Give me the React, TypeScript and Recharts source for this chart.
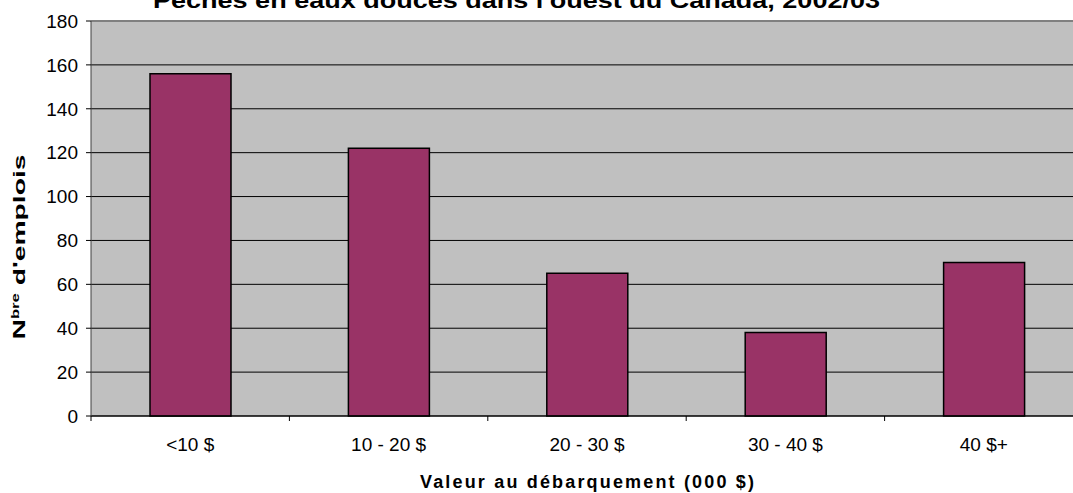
import React from "react";
import {
  BarChart,
  Bar,
  XAxis,
  YAxis,
  CartesianGrid,
  ReferenceLine,
} from "recharts";

// Valeur au débarquement (000 $) -> nombre d'emplois
const categories = ["<10 $", "10 - 20 $", "20 - 30 $", "30 - 40 $", "40 $+"];
const emplois = [156, 122, 65, 38, 70];
const yTicks = [0, 20, 40, 60, 80, 100, 120, 140, 160, 180];

const data = categories.map((c, i) => ({ categorie: c, emplois: emplois[i] }));

const FONT = "'Liberation Sans', Arial, sans-serif";

// category label at the centre, tick mark on the left edge of each category
const CategoryTick = (props: any) => {
  const { x, y, payload, width } = props;
  const half =
    payload && payload.offset > 0 ? payload.offset : width / categories.length / 2;
  const bx = x - half;
  return (
    <g>
      <line x1={bx} y1={y} x2={bx} y2={y + 5} stroke="#000" />
      <text
        x={x}
        y={y + 22}
        dy="0.71em"
        textAnchor="middle"
        fontFamily={FONT}
        fontSize={19}
        fill="#000"
      >
        {payload.value}
      </text>
    </g>
  );
};

const XTitle = (props: any) => {
  const { viewBox } = props;
  const cx = viewBox.x + viewBox.width / 2;
  return (
    <text
      x={cx}
      y={viewBox.y + 72}
      textAnchor="middle"
      fontFamily={FONT}
      fontSize={18}
      fontWeight="bold"
      fill="#000"
      textLength={334}
    >
      Valeur au débarquement (000 $)
    </text>
  );
};

const YTitle = () => (
  <text
    x={25}
    y={247}
    transform="rotate(-90 25 247)"
    textAnchor="middle"
    fontFamily={FONT}
    fontSize={17}
    fontWeight="bold"
    fill="#000"
    textLength={185}
    lengthAdjust="spacingAndGlyphs"
  >
    N
    <tspan fontSize={10} dy={-6}>
      bre
    </tspan>
    <tspan dy={6}> d'emplois</tspan>
  </text>
);

export default function App() {
  return (
    <div
      style={{
        position: "absolute",
        left: 0,
        top: 0,
        width: 1073,
        height: 493,
        overflow: "hidden",
        background: "#fff",
      }}
    >
      <BarChart
        width={1100}
        height={493}
        data={data}
        margin={{ top: 21, right: 17, left: 31, bottom: 0 }}
        style={{ fontFamily: FONT }}
      >
        <CartesianGrid
          vertical={false}
          stroke="#000"
          fill="#C0C0C0"
          fillOpacity={1}
        />
        <ReferenceLine y={180} stroke="#808080" strokeWidth={2} />
        <XAxis
          dataKey="categorie"
          height={77}
          tickLine={false}
          tickSize={0}
          tickMargin={0}
          interval={0}
          axisLine={{ stroke: "#000" }}
          tick={<CategoryTick />}
          label={<XTitle />}
        />
        <YAxis
          width={60}
          domain={[0, 180]}
          ticks={yTicks}
          tickSize={5}
          tickMargin={8}
          tickLine={{ stroke: "#000" }}
          axisLine={{ stroke: "#404040" }}
          tick={{ fontSize: 19, fill: "#000" }}
          label={<YTitle />}
        />
        <Bar
          dataKey="emplois"
          fill="#993366"
          stroke="#000"
          strokeWidth={1.5}
          barSize={81}
          isAnimationActive={false}
        />
      </BarChart>
      <svg
        width={1073}
        height={22}
        style={{ position: "absolute", left: 0, top: 0 }}
      >
        <text
          x={153}
          y={8}
          fontFamily={FONT}
          fontSize={22}
          fontWeight="bold"
          fill="#000"
          textLength={727}
          lengthAdjust="spacingAndGlyphs"
        >
          Pêches en eaux douces dans l'ouest du Canada, 2002/03
        </text>
      </svg>
    </div>
  );
}
